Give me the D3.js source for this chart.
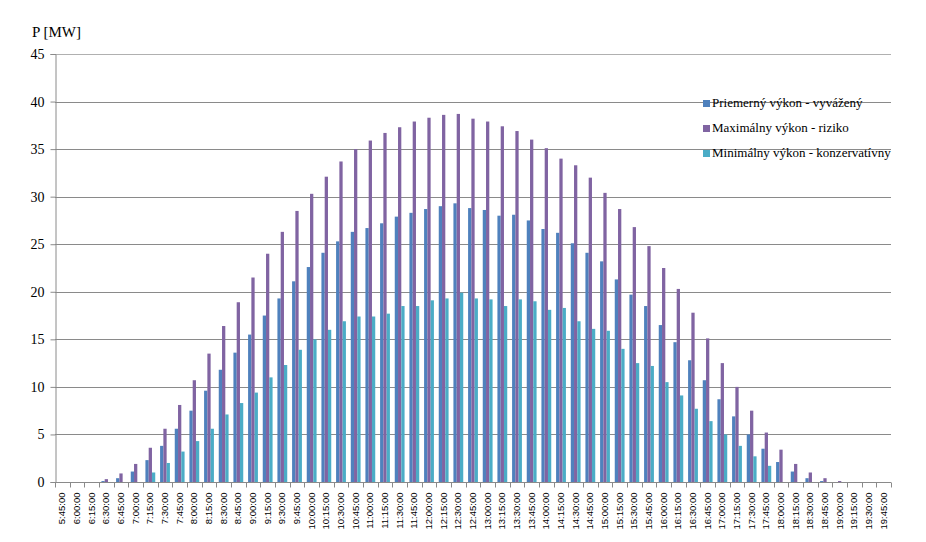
<!DOCTYPE html>
<html>
<head>
<meta charset="utf-8">
<script src="https://cdn.jsdelivr.net/npm/d3@7"></script>
<style>
  body { margin: 0; background: #fff; }
</style>
</head>
<body>
<div id="chart"></div>
<script>
// time slots (15 min steps)
var times = ["5:45:00","6:00:00","6:15:00","6:30:00","6:45:00","7:00:00","7:15:00","7:30:00","7:45:00",
  "8:00:00","8:15:00","8:30:00","8:45:00","9:00:00","9:15:00","9:30:00","9:45:00",
  "10:00:00","10:15:00","10:30:00","10:45:00","11:00:00","11:15:00","11:30:00","11:45:00",
  "12:00:00","12:15:00","12:30:00","12:45:00","13:00:00","13:15:00","13:30:00","13:45:00",
  "14:00:00","14:15:00","14:30:00","14:45:00","15:00:00","15:15:00","15:30:00","15:45:00",
  "16:00:00","16:15:00","16:30:00","16:45:00","17:00:00","17:15:00","17:30:00","17:45:00",
  "18:00:00","18:15:00","18:30:00","18:45:00","19:00:00","19:15:00","19:30:00","19:45:00"];

var seriesNames = ["Priemerný výkon - vyvážený", "Maximálny výkon - riziko", "Minimálny výkon - konzervatívny"];
var seriesColors = ["#4f81bd", "#8064a2", "#4bacc6"];

var avgValues = [0,0,0,0.1,0.4,1.1,2.3,3.8,5.6,
  7.5,9.6,11.8,13.6,15.5,17.5,19.3,21.1,
  22.6,24.1,25.3,26.3,26.7,27.2,27.9,28.3,
  28.7,29.0,29.3,28.8,28.6,28.0,28.1,27.5,
  26.6,26.2,25.1,24.1,23.2,21.3,19.7,18.5,
  16.5,14.7,12.8,10.7,8.7,6.9,5.0,3.5,
  2.1,1.1,0.4,0.1,0,0,0,0];
var maxValues = [0,0,0,0.3,0.9,1.9,3.6,5.6,8.1,
  10.7,13.5,16.4,18.9,21.5,24.0,26.3,28.5,
  30.3,32.1,33.7,35.0,35.9,36.7,37.3,37.9,
  38.3,38.6,38.7,38.2,37.9,37.4,36.9,36.0,
  35.1,34.0,33.3,32.0,30.4,28.7,26.8,24.8,
  22.5,20.3,17.8,15.1,12.5,10.0,7.5,5.2,
  3.4,1.9,1.0,0.4,0.1,0,0,0];
var minValues = [0,0,0,0,0,0,1.0,2.0,3.2,
  4.3,5.6,7.1,8.3,9.4,11.0,12.3,13.9,
  15.0,16.0,16.9,17.4,17.4,17.7,18.5,18.5,
  19.1,19.3,19.9,19.3,19.2,18.5,19.2,19.0,
  18.1,18.3,16.9,16.1,15.9,14.0,12.5,12.2,
  10.5,9.1,7.7,6.4,5.0,3.8,2.7,1.7,
  0,0,0,0,0,0,0,0];

var yTicks = [0,5,10,15,20,25,30,35,40,45];

var w = 926, h = 542;
var plotLeft = 55, plotRight = 891, plotTop = 54, plotBottom = 482;

var svg = d3.select("#chart").append("svg")
    .attr("width", w)
    .attr("height", h);

var data = times.map(function(t, i) {
  return { time: t, values: [avgValues[i], maxValues[i], minValues[i]] };
});

var xScale = d3.scaleBand()
    .domain(times)
    .range([plotLeft, plotRight])
    .paddingInner(0.33)
    .paddingOuter(0.165);

var xInner = d3.scaleBand()
    .domain([0, 1, 2])
    .range([0, xScale.bandwidth()]);

var yScale = d3.scaleLinear()
    .domain([0, 45])
    .range([plotBottom, plotTop]);

// gridlines
svg.append("g")
  .selectAll("line")
  .data(yTicks.slice(1))
  .enter().append("line")
    .attr("x1", plotLeft)
    .attr("x2", plotRight)
    .attr("y1", function(d) { return Math.round(yScale(d)) + 0.5; })
    .attr("y2", function(d) { return Math.round(yScale(d)) + 0.5; })
    .attr("stroke", function(d) { return d === 45 ? "#b0b0b0" : "#8a8a8a"; })
    .attr("stroke-width", 1);

// bars
var groups = svg.append("g")
  .selectAll("g")
  .data(data)
  .enter().append("g")
    .attr("transform", function(d) { return "translate(" + xScale(d.time) + ",0)"; });

groups.selectAll("rect")
  .data(function(d) { return d.values; })
  .enter().append("rect")
    .attr("x", function(d, i) { return xInner(i); })
    .attr("width", xInner.bandwidth())
    .attr("y", function(d) { return yScale(d); })
    .attr("height", function(d) { return plotBottom - yScale(d); })
    .attr("fill", function(d, i) { return seriesColors[i]; });

// y axis
var yAxis = d3.axisLeft(yScale)
    .tickValues(yTicks)
    .tickSize(5)
    .tickPadding(6);

var gy = svg.append("g")
    .attr("transform", "translate(" + (plotLeft + 0.5) + ",0)")
    .call(yAxis);
gy.select(".domain").attr("stroke", "#8a8a8a");
gy.selectAll(".tick line").attr("stroke", "#8a8a8a");
gy.selectAll(".tick text")
    .attr("font-family", "Liberation Serif, serif")
    .attr("font-size", "14px")
    .attr("fill", "#000");

// x axis: ticks at category boundaries
var gx = svg.append("g")
    .attr("transform", "translate(0," + (plotBottom + 0.5) + ")");
gx.append("line")
    .attr("x1", plotLeft).attr("x2", plotRight)
    .attr("stroke", "#8a8a8a");
var step = xScale.step();
gx.selectAll("line.tk")
  .data(d3.range(times.length + 1))
  .enter().append("line")
    .attr("class", "tk")
    .attr("x1", function(i) { return Math.round(plotLeft + i * step) + 0.5; })
    .attr("x2", function(i) { return Math.round(plotLeft + i * step) + 0.5; })
    .attr("y1", 0).attr("y2", 5)
    .attr("stroke", "#8a8a8a");
gx.selectAll("text")
  .data(times)
  .enter().append("text")
    .attr("transform", function(d) {
      var cx = xScale(d) + xScale.bandwidth() / 2 + 3;
      return "translate(" + cx + ",10) rotate(-90)";
    })
    .attr("text-anchor", "end")
    .attr("font-family", "Liberation Sans, Arial, sans-serif")
    .attr("font-size", "9.5px")
    .attr("fill", "#000")
    .text(function(d) { return d; });

// axis title
svg.append("text")
    .attr("x", 32)
    .attr("y", 37)
    .attr("font-family", "Liberation Serif, serif")
    .attr("font-size", "15px")
    .attr("fill", "#000")
    .text("P [MW]");

// legend
var legend = svg.append("g")
  .selectAll("g")
  .data(seriesNames)
  .enter().append("g")
    .attr("transform", function(d, i) { return "translate(703," + (107 + i * 25) + ")"; });
legend.append("rect")
    .attr("x", 0).attr("y", -7)
    .attr("width", 7).attr("height", 7)
    .attr("fill", function(d, i) { return seriesColors[i]; });
legend.append("text")
    .attr("x", 9)
    .attr("y", 0)
    .attr("font-family", "Liberation Serif, serif")
    .attr("font-size", "13px")
    .attr("fill", "#000")
    .text(function(d) { return d; });
</script>
</body>
</html>
